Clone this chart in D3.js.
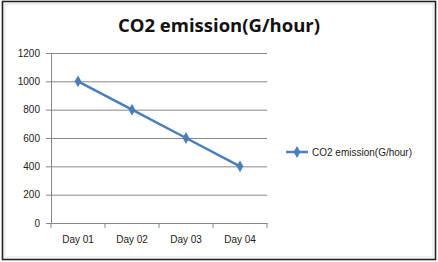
<!DOCTYPE html>
<html>
<head>
<meta charset="utf-8">
<script src="https://cdn.jsdelivr.net/npm/d3@7"></script>
<style>
  body { margin: 0; background: #fff; }
  svg { display: block; }
</style>
</head>
<body>
<svg id="chart" width="438" height="262"></svg>
<script>
// Dữ liệu
const days = ["Day 01", "Day 02", "Day 03", "Day 04"];
const emission = [1000, 800, 600, 400];
const yTicks = [0, 200, 400, 600, 800, 1000, 1200];
const seriesName = "CO2 emission(G/hour)";

const svg = d3.select("#chart");
const W = +svg.attr("width");
const H = +svg.attr("height");
const margin = { top: 53, left: 51, right: 171, bottom: 39 };
const innerW = W - margin.left - margin.right;
const innerH = H - margin.top - margin.bottom;
const FONT = "Liberation Sans, Arial, sans-serif";

// Khung ngoài
svg.append("rect")
  .attr("x", 2.5).attr("y", 1.5)
  .attr("width", 433).attr("height", 258)
  .attr("fill", "#fff")
  .attr("stroke", "#222")
  .attr("stroke-width", 1.6);
svg.append("rect")
  .attr("x", 5).attr("y", 4)
  .attr("width", 428).attr("height", 253)
  .attr("fill", "none")
  .attr("stroke", "#ddd")
  .attr("stroke-width", 0.8);

const g = svg.append("g").attr("transform", `translate(${margin.left},${margin.top})`);

const x = d3.scaleBand().domain(days).range([0, innerW]);
const y = d3.scaleLinear().domain([0, 1200]).range([innerH, 0]);

// Grid ngang
g.append("g")
  .call(d3.axisLeft(y).tickValues(yTicks).tickSize(-innerW).tickFormat(""))
  .call(a => a.select(".domain").remove())
  .selectAll("line")
  .attr("stroke", "#888")
  .attr("stroke-width", 1);

// Trục Y
const yAxis = g.append("g")
  .call(d3.axisLeft(y).tickValues(yTicks).tickFormat(d3.format("d"))
    .tickSize(5).tickPadding(6).tickSizeOuter(0));
yAxis.select(".domain").attr("stroke", "#888");
yAxis.selectAll("line").attr("stroke", "#888");
yAxis.selectAll("text")
  .attr("fill", "#222")
  .style("font-family", FONT)
  .style("font-size", "10px");

// Trục X
const xAxis = g.append("g")
  .attr("transform", `translate(0,${innerH})`)
  .call(d3.axisBottom(x).tickSize(0).tickPadding(13));
xAxis.select(".domain").attr("stroke", "#888");
xAxis.selectAll("text")
  .attr("fill", "#222")
  .style("font-family", FONT)
  .style("font-size", "10px");
// vạch chia giữa các nhóm
g.append("g")
  .selectAll("line")
  .data(days.concat(["end"]))
  .enter()
  .append("line")
  .attr("x1", (d, i) => i < days.length ? x(d) : x.range()[1])
  .attr("x2", (d, i) => i < days.length ? x(d) : x.range()[1])
  .attr("y1", innerH)
  .attr("y2", innerH + 5)
  .attr("stroke", "#888");

// Đường
const line = d3.line()
  .x((d, i) => x(days[i]) + x.bandwidth() / 2)
  .y(d => y(d));

g.append("path")
  .datum(emission)
  .attr("fill", "none")
  .attr("stroke", "#4a7ebb")
  .attr("stroke-width", 2.5)
  .attr("d", line);

const diamond = d3.symbol().type(d3.symbolDiamond).size(40);
g.selectAll(".pt")
  .data(emission)
  .enter()
  .append("path")
  .attr("class", "pt")
  .attr("d", diamond)
  .attr("transform", (d, i) => `translate(${x(days[i]) + x.bandwidth() / 2},${y(d)})`)
  .attr("fill", "#4a7ebb");

// Tiêu đề
svg.append("text")
  .attr("x", 219)
  .attr("y", 32)
  .attr("text-anchor", "middle")
  .style("font-family", "Open Sans, Liberation Sans, sans-serif")
  .style("font-size", "18.5px")
  .style("font-weight", "bold")
  .attr("fill", "#111")
  .text(seriesName);

// Chú thích
const lg = svg.append("g").attr("transform", "translate(286,152)");
lg.append("line")
  .attr("x1", 0).attr("x2", 22)
  .attr("stroke", "#4a7ebb")
  .attr("stroke-width", 2.5);
lg.append("path")
  .attr("d", diamond)
  .attr("transform", "translate(11,0)")
  .attr("fill", "#4a7ebb");
lg.append("text")
  .attr("x", 26)
  .attr("y", 3.5)
  .style("font-family", FONT)
  .style("font-size", "10px")
  .attr("fill", "#222")
  .text(seriesName);
</script>
</body>
</html>
